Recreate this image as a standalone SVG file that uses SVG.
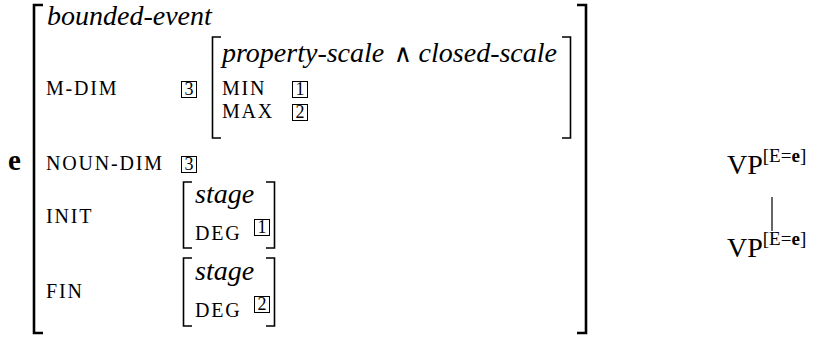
<svg xmlns="http://www.w3.org/2000/svg" width="819" height="338" viewBox="0 0 819 338">
<style>
text{fill:#000}
.it{font-style:italic;font-size:28px}
.sc{font-size:20px;letter-spacing:1.8px}
.num{font-size:18px}
.op{font-size:25px}
.box{fill:none;stroke:#000;stroke-width:1}
.br{fill:none;stroke:#000;stroke-width:1.6}
.obr{fill:none;stroke:#000;stroke-width:2.6}
.vp{font-size:28px}
.sup{font-size:19px}
.edge{stroke:#000;stroke-width:1.2}
</style>
<g id="avm" font-family="Liberation Serif, serif">
<text x="8" y="170" font-size="29" font-weight="bold">e</text>
<path class="obr" d="M43,5 H34 V333 H43"/>
<path class="obr" d="M577,5 H586 V333 H577"/>
<text class="it" x="47" y="25" font-family="Liberation Serif" font-style="italic">bounded-event</text>
<text class="sc" x="46" y="95">M-DIM</text>
<rect class="box" x="181.5" y="81.5" width="15" height="16"/>
<text class="num" x="189" y="95" text-anchor="middle">3</text>
<path class="br" d="M221,37 H212.5 V138 H221"/>
<path class="br" d="M562,37 H570.5 V138 H562"/>
<text class="it" x="222" y="62" font-family="Liberation Serif" font-style="italic">property-scale</text>
<text class="op" x="403" y="62" text-anchor="middle" font-family="DejaVu Sans, sans-serif" font-weight="normal">∧</text>
<text class="it" x="557" y="62" text-anchor="end" font-family="Liberation Serif" font-style="italic">closed-scale</text>
<text class="sc" x="222" y="95">MIN</text>
<rect class="box" x="292.5" y="81.5" width="15" height="16"/>
<text class="num" x="300" y="95" text-anchor="middle">1</text>
<text class="sc" x="222" y="118">MAX</text>
<rect class="box" x="292.5" y="104.5" width="15" height="16"/>
<text class="num" x="300" y="118" text-anchor="middle">2</text>
<text class="sc" x="46" y="170">NOUN-DIM</text>
<rect class="box" x="181.5" y="156.5" width="15" height="16"/>
<text class="num" x="189" y="170" text-anchor="middle">3</text>
<text class="sc" x="46" y="223">INIT</text>
<path class="br" d="M192,182 H183.5 V248 H192"/>
<path class="br" d="M266,182 H274.5 V248 H266"/>
<text class="it" x="195" y="203" font-family="Liberation Serif" font-style="italic">stage</text>
<text class="sc" x="195" y="240">DEG</text>
<rect class="box" x="254.5" y="219.5" width="15" height="16"/>
<text class="num" x="262" y="233" text-anchor="middle">1</text>
<text class="sc" x="46" y="298">FIN</text>
<path class="br" d="M192,258 H183.5 V326 H192"/>
<path class="br" d="M266,258 H274.5 V326 H266"/>
<text class="it" x="195" y="280" font-family="Liberation Serif" font-style="italic">stage</text>
<text class="sc" x="195" y="317">DEG</text>
<rect class="box" x="254.5" y="296.5" width="15" height="16"/>
<text class="num" x="262" y="310" text-anchor="middle">2</text>
</g>
<g id="vp-top" font-family="Liberation Serif, serif">
<text class="vp" x="727" y="174">VP<tspan class="sup" dy="-12">[E=<tspan font-weight="bold">e</tspan>]</tspan></text>
</g>
<g id="vp-bottom" font-family="Liberation Serif, serif">
<text class="vp" x="727" y="257">VP<tspan class="sup" dy="-12">[E=<tspan font-weight="bold">e</tspan>]</tspan></text>
</g>
<g id="connectors">
<line class="edge" x1="772" y1="197" x2="772" y2="231"/>
</g>
</svg>
